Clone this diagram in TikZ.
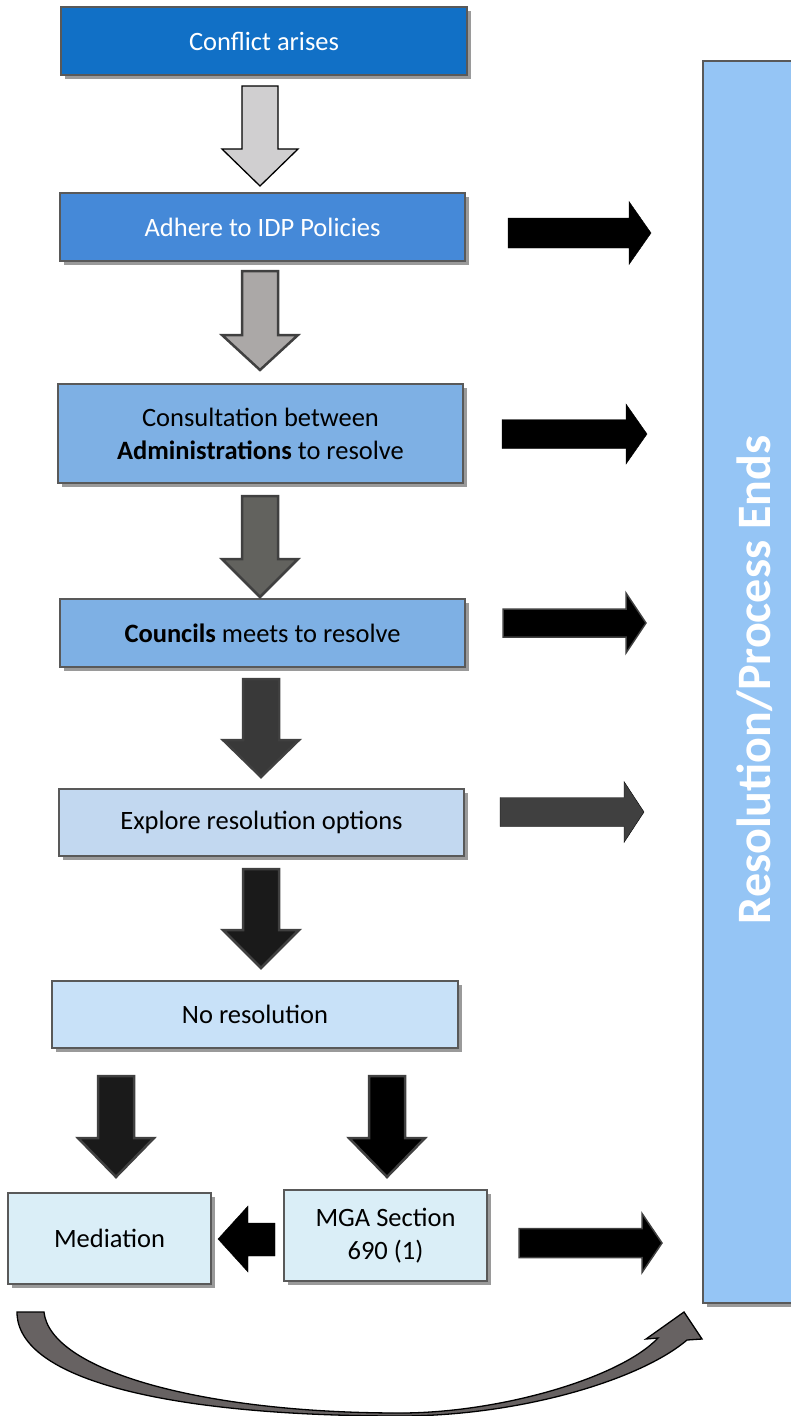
\documentclass[tikz,border=0pt]{standalone}
\usepackage{fontspec}
\setmainfont{Carlito}
\usetikzlibrary{shadows}
\definecolor{cA}{HTML}{1170C6}
\definecolor{cB}{HTML}{4589D8}
\definecolor{cC}{HTML}{7EB0E4}
\definecolor{cD}{HTML}{C2D8F0}
\definecolor{cE}{HTML}{C8E1F8}
\definecolor{cF}{HTML}{DAEEF7}
\definecolor{cBar}{HTML}{95C5F5}
\definecolor{bord}{HTML}{595959}
\definecolor{shad}{HTML}{9A9A9A}
\definecolor{arA}{HTML}{D0CFD0}
\definecolor{arB}{HTML}{ABA8A7}
\definecolor{arC}{HTML}{62625E}
\definecolor{arD}{HTML}{393939}
\definecolor{arE}{HTML}{1A1A1A}
\definecolor{arG}{HTML}{404040}
\definecolor{curv}{HTML}{676262}
\tikzset{
  box/.style={draw=bord, line width=1.5pt, rectangle, inner sep=0pt, align=center,
    font=\fontsize{26.5}{33}\selectfont,
    drop shadow={fill=shad, opacity=1, shadow xshift=4pt, shadow yshift=-4pt}},
  dnarr/.style={line width=2.5pt, draw=arG, line join=miter},
  rtarr/.style={line width=1.5pt, line join=miter}
}
% down arrow: #1 center x, #2 top y, #3 head base y, #4 tip y, #5 style
\newcommand{\dnarrow}[5]{%
  \draw[#5] (#1-18,#2) -- (#1+18,#2) -- (#1+18,#3) -- (#1+38,#3) -- (#1,#4)
    -- (#1-38,#3) -- (#1-18,#3) -- cycle;}
% right arrow: #1 x left, #2 head base x, #3 tip x, #4 center y, #5 shaft half, #6 head half, #7 style
\newcommand{\rtarrow}[7]{%
  \draw[#7] (#1,#4-#5) -- (#2,#4-#5) -- (#2,#4-#6) -- (#3,#4) -- (#2,#4+#6)
    -- (#2,#4+#5) -- (#1,#4+#5) -- cycle;}
\begin{document}
\begin{tikzpicture}[x=1pt,y=-1pt]
\useasboundingbox (0,0) rectangle (791,1416);
% right bar
\node[box, fill=cBar, minimum width=92pt, minimum height=1242pt] (bar) at (749,682) {};
\node[rotate=90, text=white, font=\fontsize{48}{56}\selectfont\bfseries] (bartext) at (755,680) {Resolution/Process Ends};
% boxes
\node[box, fill=cA, text=white, minimum width=406pt, minimum height=68pt] (b1) at (264,41) {Conflict arises};
\node[box, fill=cB, text=white, minimum width=405pt, minimum height=68pt] (b2) at (262.5,227) {Adhere to IDP Policies};
\node[box, fill=cC, minimum width=405pt, minimum height=99pt] (b3) at (260.5,433.5) {Consultation between\\\textbf{Administrations} to resolve};
\node[box, fill=cC, minimum width=405pt, minimum height=68pt] (b4) at (262.5,633) {\textbf{Councils} meets to resolve};
\node[box, fill=cD, minimum width=405pt, minimum height=67pt] (b5) at (261.5,822.5) {Explore resolution options};
\node[box, fill=cE, minimum width=406pt, minimum height=67pt] (b6) at (255,1014.5) {No resolution};
\node[box, fill=cF, minimum width=203pt, minimum height=91pt] (b7) at (109.5,1238.5) {Mediation};
\node[box, fill=cF, minimum width=203pt, minimum height=91pt] (b8) at (385.5,1235.5) {MGA Section\\690 (1)};
% down arrows
\dnarrow{260}{86}{149}{186}{fill=arA, draw=black, line width=1.3pt, line join=miter}
\dnarrow{260}{271}{335}{370}{dnarr, fill=arB}
\dnarrow{260}{496}{559}{597}{dnarr, fill=arC}
\dnarrow{261}{679}{740}{777}{dnarr, fill=arD}
\dnarrow{261}{869}{930}{968}{dnarr, fill=arE}
\dnarrow{116}{1076}{1138}{1177}{dnarr, fill=arE}
\dnarrow{387}{1076}{1138}{1177}{dnarr, fill=black}
% right arrows
\rtarrow{508}{629}{651}{233}{15}{31.5}{fill=black}
\rtarrow{502}{626}{647}{434}{14.5}{30}{fill=black}
\rtarrow{503}{626}{646}{623}{14}{30}{rtarr, fill=black, draw=arG}
\rtarrow{500}{624}{644}{812}{14.5}{30.5}{fill=arG}
\rtarrow{519}{642}{662}{1243}{14.5}{29.5}{rtarr, fill=black, draw=arG}
% left arrow MGA -> Mediation
\draw[fill=black] (275,1223) -- (248,1223) -- (248,1206) -- (218,1239) -- (248,1272)
  -- (248,1256) -- (275,1256) -- cycle;
% curved arrow
\draw[fill=curv, draw=black, line width=1.3pt, line join=miter]
  (17,1312) .. controls (17,1380) and (170,1416) .. (400,1416)
  .. controls (520,1416) and (640,1380) .. (687,1340)
  -- (702,1339) -- (684,1312) -- (646,1339) -- (658,1338)
  .. controls (620,1378) and (500,1413) .. (400,1413)
  .. controls (200,1413) and (50,1370) .. (44,1312) -- cycle;
\end{tikzpicture}
\end{document}
